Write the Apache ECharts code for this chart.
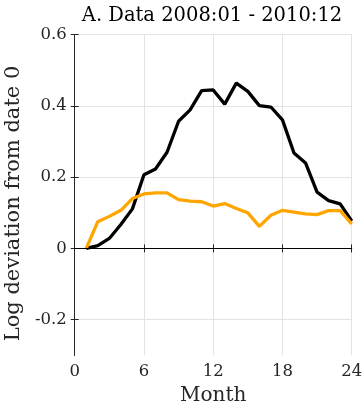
<!DOCTYPE html>
<html>
<head>
<meta charset="utf-8">
<script src="https://cdn.jsdelivr.net/npm/echarts@6/dist/echarts.min.js"></script>
<style>
html,body{margin:0;padding:0;background:#fff;}
#chart{width:363px;height:409px;}
</style>
</head>
<body>
<div id="chart"></div>
<script>
const months = [1,2,3,4,5,6,7,8,9,10,11,12,13,14,15,16,17,18,19,20,21,22,23,24];
const dataBlack = [0,0.008,0.028,0.067,0.111,0.207,0.223,0.27,0.357,0.389,0.443,0.445,0.405,0.464,0.441,0.401,0.397,0.361,0.268,0.24,0.158,0.134,0.125,0.077];
const dataOrange = [0,0.075,0.09,0.107,0.14,0.153,0.156,0.156,0.137,0.133,0.131,0.119,0.126,0.112,0.1,0.062,0.093,0.107,0.102,0.097,0.095,0.106,0.106,0.069];
const xTicks = [0,6,12,18,24];
const yTicks = [-0.2,0,0.2,0.4,0.6];
const titleText = 'A. Data 2008:01 - 2010:12';
const xName = 'Month';
const yName = 'Log deviation from date 0';

const FONT = 'DejaVu Serif';
const AX = '#262626';
const chart = echarts.init(document.getElementById('chart'), null, {renderer:'canvas'});
const pairs = arr => months.map((m,i)=>[m, arr[i]]);
const baseX = {
  type:'value', min:0, max:24, interval:6,
  axisLine:{show:true, lineStyle:{color:AX, width:1}},
  axisTick:{show:true, inside:true, length:4, lineStyle:{color:AX}},
  splitLine:{show:false}
};
const baseY = {
  type:'value', min:-0.3, max:0.6,
  axisLine:{show:true, lineStyle:{color:AX, width:1}},
  axisTick:{show:true, inside:true, length:4, customValues:yTicks, lineStyle:{color:AX}},
  splitLine:{show:false}
};
chart.setOption({
  animation:false,
  backgroundColor:'#fff',
  title:{text:titleText, left:207, textAlign:'center', top:1, textStyle:{fontFamily:FONT, fontWeight:'normal', fontSize:19.5, color:'#000'}},
  grid:{left:74.7, right:11.3, top:34.7, bottom:53.7, containLabel:false, outerBoundsMode:'none'},
  xAxis:[
    Object.assign({}, baseX, {
      position:'bottom',
      name:xName, nameLocation:'middle', nameGap:30,
      nameTextStyle:{fontFamily:FONT, fontSize:20, color:AX},
      axisLabel:{show:true, margin:8, fontFamily:FONT, fontSize:16.5, color:AX, customValues:xTicks},
      axisTick:{show:true, inside:true, length:4, customValues:xTicks, lineStyle:{color:AX}},
      splitLine:{show:true, lineStyle:{color:'#e3e3e3', width:1}}
    }),
    Object.assign({}, baseX, {position:'top', axisLabel:{show:false}})
  ],
  yAxis:[
    Object.assign({}, baseY, {
      position:'left',
      name:yName, nameLocation:'middle', nameGap:46, nameRotate:90,
      nameTextStyle:{fontFamily:FONT, fontSize:21, color:AX, padding:[0,17,0,0]},
      axisLabel:{show:true, margin:8, fontFamily:FONT, fontSize:16.5, color:AX, customValues:yTicks},
      splitLine:{show:true, lineStyle:{color:'#e3e3e3', width:1}}
    }),
    Object.assign({}, baseY, {position:'right', axisLabel:{show:false}})
  ],
  series:[
    {type:'line', data:pairs(dataBlack), showSymbol:false, symbol:'none',
     lineStyle:{color:'#000', width:3.3}, itemStyle:{color:'#000'}, z:3,
     markLine:{silent:true, symbol:['none','none'], label:{show:false},
       lineStyle:{color:'#000', width:1, type:'solid'}, data:[{yAxis:0}]}},
    {type:'line', data:pairs(dataOrange), showSymbol:false, symbol:'none',
     lineStyle:{color:'#FFA500', width:3.3}, itemStyle:{color:'#FFA500'}, z:4}
  ]
});
</script>
</body>
</html>
